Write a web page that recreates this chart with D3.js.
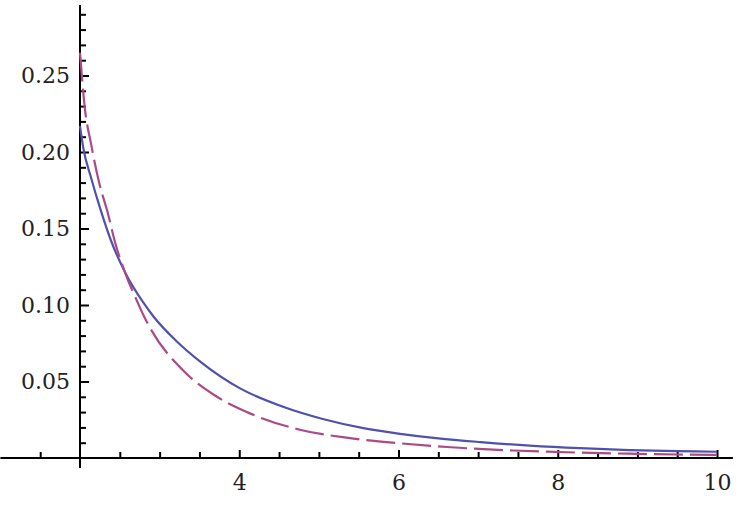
<!DOCTYPE html>
<html>
<head>
<meta charset="utf-8">
<script src="https://cdn.jsdelivr.net/npm/d3@7"></script>
<style>
  body { margin: 0; background: #fff; }
  .tick text { font-family: "DejaVu Serif", serif; font-size: 22px; fill: #222; }
</style>
</head>
<body>
<div id="chart"></div>
<script>
// values
var blueX = [2.00, 2.04, 2.14, 2.26, 2.39, 2.58, 2.79, 2.93, 3.20, 3.51, 4.01, 4.55, 5.05, 5.56, 6.02, 6.50, 7.03, 7.65, 8.28, 8.90, 9.50, 10.0];
var blueY = [0.217, 0.203, 0.183, 0.162, 0.142, 0.120, 0.102, 0.092, 0.077, 0.063, 0.0455, 0.0335, 0.0255, 0.0195, 0.0158, 0.0128, 0.0104, 0.0081, 0.0064, 0.0052, 0.0045, 0.0041];

var pinkX = [2.00, 2.06, 2.14, 2.24, 2.35, 2.44, 2.56, 2.73, 2.80, 2.88, 3.29, 3.72, 4.14, 4.76, 5.39, 6.02, 6.61, 7.44, 8.28, 8.90, 9.50, 10.0];
var pinkY = [0.265, 0.229, 0.205, 0.180, 0.160, 0.141, 0.122, 0.101, 0.093, 0.085, 0.0575, 0.040, 0.029, 0.0185, 0.013, 0.0096, 0.0072, 0.0049, 0.0035, 0.0028, 0.0023, 0.0020];

var xMajor = [4, 6, 8, 10];
var yMajor = [0.05, 0.10, 0.15, 0.20, 0.25];
var yLabels = ["0.05", "0.10", "0.15", "0.20", "0.25"];

var width = 754, height = 508;

var svg = d3.select("#chart").append("svg")
    .attr("width", width)
    .attr("height", height);

var x = d3.scaleLinear().domain([2, 10]).range([80, 717]);
var y = d3.scaleLinear().domain([0, 0.25]).range([458, 75.5]);

// minor ticks every 0.5 on x and 0.01 on y
var xMinor = d3.range(1.5, 10.01, 0.5).filter(function (v) {
    return xMajor.indexOf(v) < 0 && v !== 2;
});
var yMinor = d3.range(1, 30).map(function (i) { return i / 100; }).filter(function (v) {
    return yMajor.every(function (m) { return Math.abs(m - v) > 1e-6; });
});

// axis lines
svg.append("line")
    .attr("x1", x(1.0)).attr("x2", x(10.2))
    .attr("y1", y(0)).attr("y2", y(0))
    .attr("stroke", "#000").attr("stroke-width", 2);
svg.append("line")
    .attr("x1", x(2)).attr("x2", x(2))
    .attr("y1", y(0.296)).attr("y2", y(-0.0065))
    .attr("stroke", "#000").attr("stroke-width", 2);

// x axis ticks (pointing up)
svg.append("g")
    .attr("transform", "translate(0," + y(0) + ")")
    .call(d3.axisBottom(x).tickValues(xMinor).tickSize(-6).tickFormat(""))
    .call(function (g) { g.select(".domain").remove(); })
    .selectAll("line").attr("stroke-width", 2);

svg.append("g")
    .attr("transform", "translate(0," + y(0) + ")")
    .call(d3.axisBottom(x).tickValues(xMajor).tickSize(-8).tickPadding(16).tickFormat(d3.format("d")))
    .call(function (g) { g.select(".domain").remove(); })
    .selectAll("line").attr("stroke-width", 2);

// y axis ticks (pointing right)
svg.append("g")
    .attr("transform", "translate(" + x(2) + ",0)")
    .call(d3.axisLeft(y).tickValues(yMinor).tickSize(-6).tickFormat(""))
    .call(function (g) { g.select(".domain").remove(); })
    .selectAll("line").attr("stroke-width", 2);

svg.append("g")
    .attr("transform", "translate(" + x(2) + ",0)")
    .call(d3.axisLeft(y).tickValues(yMajor).tickSize(-9).tickPadding(10)
        .tickFormat(function (d, i) { return yLabels[i]; }))
    .call(function (g) { g.select(".domain").remove(); })
    .selectAll("line").attr("stroke-width", 2);

var line = d3.line()
    .x(function (d) { return x(d[0]); })
    .y(function (d) { return y(d[1]); })
    .curve(d3.curveMonotoneX);

svg.append("path")
    .datum(d3.zip(blueX, blueY))
    .attr("fill", "none")
    .attr("stroke", "#5050ae")
    .attr("stroke-width", 2.2)
    .attr("d", line);

svg.append("path")
    .datum(d3.zip(pinkX, pinkY))
    .attr("fill", "none")
    .attr("stroke", "#ab4a84")
    .attr("stroke-width", 2.2)
    .attr("stroke-dasharray", "29,7")
    .attr("d", line);
</script>
</body>
</html>
